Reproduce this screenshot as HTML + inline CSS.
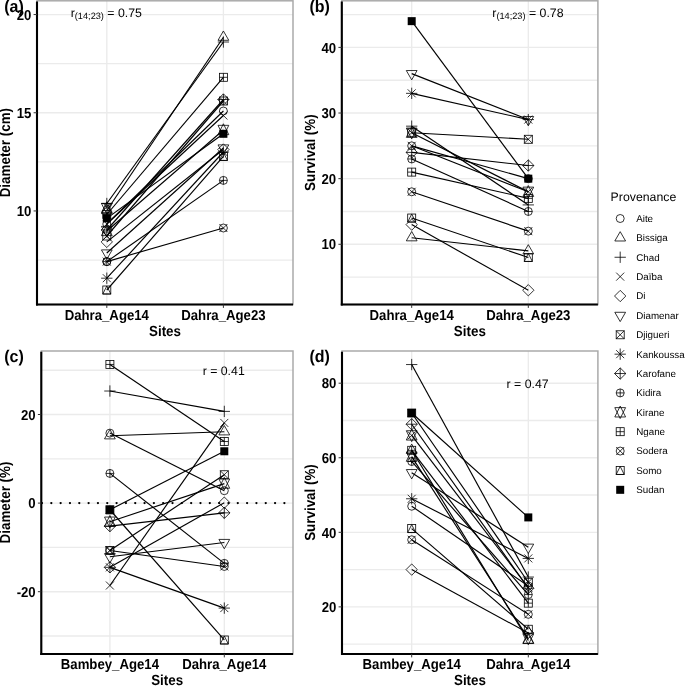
<!DOCTYPE html>
<html><head><meta charset="utf-8"><style>
html,body{margin:0;padding:0;background:#fff;}
svg{display:block;will-change:transform;}
text{font-family:"Liberation Sans",sans-serif;fill:#000;text-rendering:geometricPrecision;}
.gr{stroke:#ebebeb;stroke-width:1.35;}
.bd{fill:none;stroke:#aaaaaa;stroke-width:1.5;}
.ax{stroke:#000;stroke-width:2.1;}
.tk{stroke:#333333;stroke-width:1;}
.ln{stroke:#000;stroke-width:1.15;}
.dot{stroke:#000;stroke-width:2.3;stroke-dasharray:0 9.323;stroke-linecap:round;}
.mk *{fill:none;stroke:#000;stroke-width:0.8;}
.mk .fs{fill:#000;stroke:none;}
.tl{font-weight:bold;font-size:13.2px;}
.at{font-weight:bold;font-size:13.4px;}
.tag{font-weight:bold;font-size:16px;}
.an{font-size:12.3px;}
.sub{font-size:9.2px;}
.lt{font-size:12.3px;}
.ll{font-size:9.8px;}
</style></head>
<body><svg width="685" height="686" viewBox="0 0 685 686">
<g><line class="gr" x1="37" y1="260.05" x2="293" y2="260.05"/><line class="gr" x1="37" y1="161.85" x2="293" y2="161.85"/><line class="gr" x1="37" y1="63.65" x2="293" y2="63.65"/><line class="gr" x1="37" y1="210.95" x2="293" y2="210.95"/><line class="gr" x1="37" y1="112.75" x2="293" y2="112.75"/><line class="gr" x1="37" y1="14.55" x2="293" y2="14.55"/><line class="gr" x1="106.8" y1="0.8" x2="106.8" y2="304.5"/><line class="gr" x1="223.4" y1="0.8" x2="223.4" y2="304.5"/><rect class="bd" x="37" y="0.8" width="256" height="303.7"/><line class="ln" x1="106.8" y1="224" x2="223.4" y2="111"/><line class="ln" x1="106.8" y1="210.5" x2="223.4" y2="37.2"/><line class="ln" x1="106.8" y1="203.5" x2="223.4" y2="42"/><line class="ln" x1="106.8" y1="224" x2="223.4" y2="115.5"/><line class="ln" x1="106.8" y1="241.9" x2="223.4" y2="149.5"/><line class="ln" x1="106.8" y1="253" x2="223.4" y2="148"/><line class="ln" x1="106.8" y1="236" x2="223.4" y2="101"/><line class="ln" x1="106.8" y1="278.2" x2="223.4" y2="152"/><line class="ln" x1="106.8" y1="230" x2="223.4" y2="99.5"/><line class="ln" x1="106.8" y1="261.6" x2="223.4" y2="180.4"/><line class="ln" x1="106.8" y1="231" x2="223.4" y2="130"/><line class="ln" x1="106.8" y1="214.5" x2="223.4" y2="77.3"/><line class="ln" x1="106.8" y1="261.6" x2="223.4" y2="228"/><line class="ln" x1="106.8" y1="290" x2="223.4" y2="156.4"/><line class="ln" x1="106.8" y1="218.4" x2="223.4" y2="133.8"/><g class="mk"><circle cx="106.8" cy="224" r="4"/></g><g class="mk"><circle cx="223.4" cy="111" r="4"/></g><g class="mk"><polygon points="106.8,204.28 112.19,213.61 101.41,213.61"/></g><g class="mk"><polygon points="223.4,30.98 228.79,40.31 218.01,40.31"/></g><g class="mk"><line x1="101.14" y1="203.5" x2="112.46" y2="203.5"/><line x1="106.8" y1="197.84" x2="106.8" y2="209.16"/></g><g class="mk"><line x1="217.74" y1="42" x2="229.06" y2="42"/><line x1="223.4" y1="36.34" x2="223.4" y2="47.66"/></g><g class="mk"><line x1="102.8" y1="220" x2="110.8" y2="228"/><line x1="102.8" y1="228" x2="110.8" y2="220"/></g><g class="mk"><line x1="219.4" y1="111.5" x2="227.4" y2="119.5"/><line x1="219.4" y1="119.5" x2="227.4" y2="111.5"/></g><g class="mk"><polygon points="101.14,241.9 106.8,236.24 112.46,241.9 106.8,247.56"/></g><g class="mk"><polygon points="217.74,149.5 223.4,143.84 229.06,149.5 223.4,155.16"/></g><g class="mk"><polygon points="106.8,259.22 112.19,249.89 101.41,249.89"/></g><g class="mk"><polygon points="223.4,154.22 228.79,144.89 218.01,144.89"/></g><g class="mk"><rect x="102.8" y="232" width="8" height="8"/><line x1="102.8" y1="232" x2="110.8" y2="240"/><line x1="102.8" y1="240" x2="110.8" y2="232"/></g><g class="mk"><rect x="219.4" y="97" width="8" height="8"/><line x1="219.4" y1="97" x2="227.4" y2="105"/><line x1="219.4" y1="105" x2="227.4" y2="97"/></g><g class="mk"><line x1="102.8" y1="274.2" x2="110.8" y2="282.2"/><line x1="102.8" y1="282.2" x2="110.8" y2="274.2"/><line x1="101.14" y1="278.2" x2="112.46" y2="278.2"/><line x1="106.8" y1="272.54" x2="106.8" y2="283.86"/></g><g class="mk"><line x1="219.4" y1="148" x2="227.4" y2="156"/><line x1="219.4" y1="156" x2="227.4" y2="148"/><line x1="217.74" y1="152" x2="229.06" y2="152"/><line x1="223.4" y1="146.34" x2="223.4" y2="157.66"/></g><g class="mk"><polygon points="101.14,230 106.8,224.34 112.46,230 106.8,235.66"/><line x1="101.14" y1="230" x2="112.46" y2="230"/><line x1="106.8" y1="224.34" x2="106.8" y2="235.66"/></g><g class="mk"><polygon points="217.74,99.5 223.4,93.84 229.06,99.5 223.4,105.16"/><line x1="217.74" y1="99.5" x2="229.06" y2="99.5"/><line x1="223.4" y1="93.84" x2="223.4" y2="105.16"/></g><g class="mk"><circle cx="106.8" cy="261.6" r="4"/><line x1="102.8" y1="261.6" x2="110.8" y2="261.6"/><line x1="106.8" y1="257.6" x2="106.8" y2="265.6"/></g><g class="mk"><circle cx="223.4" cy="180.4" r="4"/><line x1="219.4" y1="180.4" x2="227.4" y2="180.4"/><line x1="223.4" y1="176.4" x2="223.4" y2="184.4"/></g><g class="mk"><polygon points="106.8,224.78 112.19,235.67 101.41,235.67"/><polygon points="106.8,237.22 112.19,226.33 101.41,226.33"/></g><g class="mk"><polygon points="223.4,123.78 228.79,134.67 218.01,134.67"/><polygon points="223.4,136.22 228.79,125.33 218.01,125.33"/></g><g class="mk"><rect x="102.8" y="210.5" width="8" height="8"/><line x1="102.8" y1="214.5" x2="110.8" y2="214.5"/><line x1="106.8" y1="210.5" x2="106.8" y2="218.5"/></g><g class="mk"><rect x="219.4" y="73.3" width="8" height="8"/><line x1="219.4" y1="77.3" x2="227.4" y2="77.3"/><line x1="223.4" y1="73.3" x2="223.4" y2="81.3"/></g><g class="mk"><circle cx="106.8" cy="261.6" r="4"/><line x1="102.8" y1="257.6" x2="110.8" y2="265.6"/><line x1="102.8" y1="265.6" x2="110.8" y2="257.6"/></g><g class="mk"><circle cx="223.4" cy="228" r="4"/><line x1="219.4" y1="224" x2="227.4" y2="232"/><line x1="219.4" y1="232" x2="227.4" y2="224"/></g><g class="mk"><rect x="102.8" y="286" width="8" height="8"/><polygon points="106.8,286 110.8,294 102.8,294"/></g><g class="mk"><rect x="219.4" y="152.4" width="8" height="8"/><polygon points="223.4,152.4 227.4,160.4 219.4,160.4"/></g><g class="mk"><rect class="fs" x="102.8" y="214.4" width="8" height="8"/></g><g class="mk"><rect class="fs" x="219.4" y="129.8" width="8" height="8"/></g><g class="mk"><polygon points="106.8,201.78 112.19,212.67 101.41,212.67"/><polygon points="106.8,214.22 112.19,203.33 101.41,203.33"/></g><g class="mk"><line x1="102.8" y1="203" x2="110.8" y2="211"/><line x1="102.8" y1="211" x2="110.8" y2="203"/></g><line class="ax" x1="37" y1="1.5" x2="37" y2="305.5"/><line class="ax" x1="36" y1="304.5" x2="293" y2="304.5"/><line class="tk" x1="33.6" y1="210.95" x2="37" y2="210.95"/><text class="tl" transform="translate(31.4 216.15) scale(1 1.09)" text-anchor="end">10</text><line class="tk" x1="33.6" y1="112.75" x2="37" y2="112.75"/><text class="tl" transform="translate(31.4 117.95) scale(1 1.09)" text-anchor="end">15</text><line class="tk" x1="33.6" y1="14.55" x2="37" y2="14.55"/><text class="tl" transform="translate(31.4 19.75) scale(1 1.09)" text-anchor="end">20</text><line class="tk" x1="106.8" y1="304.5" x2="106.8" y2="307.9"/><text class="tl" transform="translate(106.8 319.6) scale(1 1.09)" text-anchor="middle">Dahra_Age14</text><line class="tk" x1="223.4" y1="304.5" x2="223.4" y2="307.9"/><text class="tl" transform="translate(223.4 319.6) scale(1 1.09)" text-anchor="middle">Dahra_Age23</text><text class="at" transform="translate(165 335.7) scale(1 1.09)" text-anchor="middle">Sites</text><text class="at" transform="translate(10 152.65) rotate(-90) scale(1 1.09)" text-anchor="middle">Diameter (cm)</text><text class="tag" transform="translate(4.2 11.7) scale(1 1.05)">(a)</text>
<line class="gr" x1="341.8" y1="277.1" x2="597.9" y2="277.1"/><line class="gr" x1="341.8" y1="211.47" x2="597.9" y2="211.47"/><line class="gr" x1="341.8" y1="145.84" x2="597.9" y2="145.84"/><line class="gr" x1="341.8" y1="80.22" x2="597.9" y2="80.22"/><line class="gr" x1="341.8" y1="14.59" x2="597.9" y2="14.59"/><line class="gr" x1="341.8" y1="244.29" x2="597.9" y2="244.29"/><line class="gr" x1="341.8" y1="178.66" x2="597.9" y2="178.66"/><line class="gr" x1="341.8" y1="113.03" x2="597.9" y2="113.03"/><line class="gr" x1="341.8" y1="47.4" x2="597.9" y2="47.4"/><line class="gr" x1="411.7" y1="0.8" x2="411.7" y2="304.5"/><line class="gr" x1="528.3" y1="0.8" x2="528.3" y2="304.5"/><rect class="bd" x="341.8" y="0.8" width="256.1" height="303.7"/><line class="ln" x1="411.7" y1="145.84" x2="528.3" y2="178.66"/><line class="ln" x1="411.7" y1="237.73" x2="528.3" y2="250.85"/><line class="ln" x1="411.7" y1="126.16" x2="528.3" y2="204.91"/><line class="ln" x1="411.7" y1="145.84" x2="528.3" y2="191.79"/><line class="ln" x1="411.7" y1="224.6" x2="528.3" y2="290.23"/><line class="ln" x1="411.7" y1="73.65" x2="528.3" y2="119.59"/><line class="ln" x1="411.7" y1="132.72" x2="528.3" y2="139.28"/><line class="ln" x1="411.7" y1="93.34" x2="528.3" y2="119.59"/><line class="ln" x1="411.7" y1="152.41" x2="528.3" y2="165.53"/><line class="ln" x1="411.7" y1="158.97" x2="528.3" y2="211.47"/><line class="ln" x1="411.7" y1="132.72" x2="528.3" y2="191.79"/><line class="ln" x1="411.7" y1="172.1" x2="528.3" y2="198.35"/><line class="ln" x1="411.7" y1="191.79" x2="528.3" y2="231.16"/><line class="ln" x1="411.7" y1="218.04" x2="528.3" y2="257.42"/><line class="ln" x1="411.7" y1="21.15" x2="528.3" y2="178.66"/><g class="mk"><circle cx="411.7" cy="145.84" r="4"/></g><g class="mk"><circle cx="528.3" cy="178.66" r="4"/></g><g class="mk"><polygon points="411.7,231.51 417.09,240.84 406.31,240.84"/></g><g class="mk"><polygon points="528.3,244.63 533.69,253.97 522.91,253.97"/></g><g class="mk"><line x1="406.04" y1="126.16" x2="417.36" y2="126.16"/><line x1="411.7" y1="120.5" x2="411.7" y2="131.81"/></g><g class="mk"><line x1="522.64" y1="204.91" x2="533.96" y2="204.91"/><line x1="528.3" y1="199.26" x2="528.3" y2="210.57"/></g><g class="mk"><line x1="407.7" y1="141.84" x2="415.7" y2="149.84"/><line x1="407.7" y1="149.84" x2="415.7" y2="141.84"/></g><g class="mk"><line x1="524.3" y1="187.79" x2="532.3" y2="195.79"/><line x1="524.3" y1="195.79" x2="532.3" y2="187.79"/></g><g class="mk"><polygon points="406.04,224.6 411.7,218.94 417.36,224.6 411.7,230.26"/></g><g class="mk"><polygon points="522.64,290.23 528.3,284.57 533.96,290.23 528.3,295.89"/></g><g class="mk"><polygon points="411.7,79.87 417.09,70.54 406.31,70.54"/></g><g class="mk"><polygon points="528.3,125.81 533.69,116.48 522.91,116.48"/></g><g class="mk"><rect x="407.7" y="128.72" width="8" height="8"/><line x1="407.7" y1="128.72" x2="415.7" y2="136.72"/><line x1="407.7" y1="136.72" x2="415.7" y2="128.72"/></g><g class="mk"><rect x="524.3" y="135.28" width="8" height="8"/><line x1="524.3" y1="135.28" x2="532.3" y2="143.28"/><line x1="524.3" y1="143.28" x2="532.3" y2="135.28"/></g><g class="mk"><line x1="407.7" y1="89.34" x2="415.7" y2="97.34"/><line x1="407.7" y1="97.34" x2="415.7" y2="89.34"/><line x1="406.04" y1="93.34" x2="417.36" y2="93.34"/><line x1="411.7" y1="87.68" x2="411.7" y2="99"/></g><g class="mk"><line x1="524.3" y1="115.59" x2="532.3" y2="123.59"/><line x1="524.3" y1="123.59" x2="532.3" y2="115.59"/><line x1="522.64" y1="119.59" x2="533.96" y2="119.59"/><line x1="528.3" y1="113.94" x2="528.3" y2="125.25"/></g><g class="mk"><polygon points="406.04,152.41 411.7,146.75 417.36,152.41 411.7,158.06"/><line x1="406.04" y1="152.41" x2="417.36" y2="152.41"/><line x1="411.7" y1="146.75" x2="411.7" y2="158.06"/></g><g class="mk"><polygon points="522.64,165.53 528.3,159.88 533.96,165.53 528.3,171.19"/><line x1="522.64" y1="165.53" x2="533.96" y2="165.53"/><line x1="528.3" y1="159.88" x2="528.3" y2="171.19"/></g><g class="mk"><circle cx="411.7" cy="158.97" r="4"/><line x1="407.7" y1="158.97" x2="415.7" y2="158.97"/><line x1="411.7" y1="154.97" x2="411.7" y2="162.97"/></g><g class="mk"><circle cx="528.3" cy="211.47" r="4"/><line x1="524.3" y1="211.47" x2="532.3" y2="211.47"/><line x1="528.3" y1="207.47" x2="528.3" y2="215.47"/></g><g class="mk"><polygon points="411.7,126.5 417.09,137.38 406.31,137.38"/><polygon points="411.7,138.94 417.09,128.05 406.31,128.05"/></g><g class="mk"><polygon points="528.3,185.57 533.69,196.45 522.91,196.45"/><polygon points="528.3,198.01 533.69,187.12 522.91,187.12"/></g><g class="mk"><rect x="407.7" y="168.1" width="8" height="8"/><line x1="407.7" y1="172.1" x2="415.7" y2="172.1"/><line x1="411.7" y1="168.1" x2="411.7" y2="176.1"/></g><g class="mk"><rect x="524.3" y="194.35" width="8" height="8"/><line x1="524.3" y1="198.35" x2="532.3" y2="198.35"/><line x1="528.3" y1="194.35" x2="528.3" y2="202.35"/></g><g class="mk"><circle cx="411.7" cy="191.79" r="4"/><line x1="407.7" y1="187.79" x2="415.7" y2="195.79"/><line x1="407.7" y1="195.79" x2="415.7" y2="187.79"/></g><g class="mk"><circle cx="528.3" cy="231.16" r="4"/><line x1="524.3" y1="227.16" x2="532.3" y2="235.16"/><line x1="524.3" y1="235.16" x2="532.3" y2="227.16"/></g><g class="mk"><rect x="407.7" y="214.04" width="8" height="8"/><polygon points="411.7,214.04 415.7,222.04 407.7,222.04"/></g><g class="mk"><rect x="524.3" y="253.42" width="8" height="8"/><polygon points="528.3,253.42 532.3,261.42 524.3,261.42"/></g><g class="mk"><rect class="fs" x="407.7" y="17.15" width="8" height="8"/></g><g class="mk"><rect class="fs" x="524.3" y="174.66" width="8" height="8"/></g><line class="ax" x1="341.8" y1="1.5" x2="341.8" y2="305.5"/><line class="ax" x1="340.8" y1="304.5" x2="597.9" y2="304.5"/><line class="tk" x1="338.4" y1="244.29" x2="341.8" y2="244.29"/><text class="tl" transform="translate(336.2 249.49) scale(1 1.09)" text-anchor="end">10</text><line class="tk" x1="338.4" y1="178.66" x2="341.8" y2="178.66"/><text class="tl" transform="translate(336.2 183.86) scale(1 1.09)" text-anchor="end">20</text><line class="tk" x1="338.4" y1="113.03" x2="341.8" y2="113.03"/><text class="tl" transform="translate(336.2 118.23) scale(1 1.09)" text-anchor="end">30</text><line class="tk" x1="338.4" y1="47.4" x2="341.8" y2="47.4"/><text class="tl" transform="translate(336.2 52.6) scale(1 1.09)" text-anchor="end">40</text><line class="tk" x1="411.7" y1="304.5" x2="411.7" y2="307.9"/><text class="tl" transform="translate(411.7 319.6) scale(1 1.09)" text-anchor="middle">Dahra_Age14</text><line class="tk" x1="528.3" y1="304.5" x2="528.3" y2="307.9"/><text class="tl" transform="translate(528.3 319.6) scale(1 1.09)" text-anchor="middle">Dahra_Age23</text><text class="at" transform="translate(469.85 335.7) scale(1 1.09)" text-anchor="middle">Sites</text><text class="at" transform="translate(315.2 152.65) rotate(-90) scale(1 1.09)" text-anchor="middle">Survival (%)</text><text class="tag" transform="translate(309.5 11.7) scale(1 1.05)">(b)</text>
<line class="gr" x1="41.3" y1="636" x2="293" y2="636"/><line class="gr" x1="41.3" y1="547.4" x2="293" y2="547.4"/><line class="gr" x1="41.3" y1="458.8" x2="293" y2="458.8"/><line class="gr" x1="41.3" y1="370.2" x2="293" y2="370.2"/><line class="gr" x1="41.3" y1="591.7" x2="293" y2="591.7"/><line class="gr" x1="41.3" y1="503.1" x2="293" y2="503.1"/><line class="gr" x1="41.3" y1="414.5" x2="293" y2="414.5"/><line class="gr" x1="109.9" y1="351" x2="109.9" y2="654"/><line class="gr" x1="224.3" y1="351" x2="224.3" y2="654"/><rect class="bd" x="41.3" y="351" width="251.7" height="303"/><line class="dot" x1="42.0" y1="503.1" x2="290" y2="503.1"/><line class="ln" x1="109.9" y1="433.11" x2="224.3" y2="490.7"/><line class="ln" x1="109.9" y1="435.76" x2="224.3" y2="431.78"/><line class="ln" x1="109.9" y1="391.02" x2="224.3" y2="411.4"/><line class="ln" x1="109.9" y1="585.5" x2="224.3" y2="422.92"/><line class="ln" x1="109.9" y1="567.34" x2="224.3" y2="502.66"/><line class="ln" x1="109.9" y1="556.7" x2="224.3" y2="542.53"/><line class="ln" x1="109.9" y1="550.5" x2="224.3" y2="474.75"/><line class="ln" x1="109.9" y1="567.34" x2="224.3" y2="608.09"/><line class="ln" x1="109.9" y1="526.14" x2="224.3" y2="512.85"/><line class="ln" x1="109.9" y1="473.42" x2="224.3" y2="563.35"/><line class="ln" x1="109.9" y1="521.71" x2="224.3" y2="483.61"/><line class="ln" x1="109.9" y1="364.44" x2="224.3" y2="441.52"/><line class="ln" x1="109.9" y1="550.5" x2="224.3" y2="566.45"/><line class="ln" x1="109.9" y1="509.75" x2="224.3" y2="639.99"/><line class="ln" x1="109.9" y1="509.75" x2="224.3" y2="451.27"/><g class="mk"><circle cx="109.9" cy="433.11" r="4"/></g><g class="mk"><circle cx="224.3" cy="490.7" r="4"/></g><g class="mk"><polygon points="109.9,429.54 115.29,438.88 104.51,438.88"/></g><g class="mk"><polygon points="224.3,425.56 229.69,434.89 218.91,434.89"/></g><g class="mk"><line x1="104.24" y1="391.02" x2="115.56" y2="391.02"/><line x1="109.9" y1="385.36" x2="109.9" y2="396.68"/></g><g class="mk"><line x1="218.64" y1="411.4" x2="229.96" y2="411.4"/><line x1="224.3" y1="405.74" x2="224.3" y2="417.06"/></g><g class="mk"><line x1="105.9" y1="581.5" x2="113.9" y2="589.5"/><line x1="105.9" y1="589.5" x2="113.9" y2="581.5"/></g><g class="mk"><line x1="220.3" y1="418.92" x2="228.3" y2="426.92"/><line x1="220.3" y1="426.92" x2="228.3" y2="418.92"/></g><g class="mk"><polygon points="104.24,567.34 109.9,561.68 115.56,567.34 109.9,572.99"/></g><g class="mk"><polygon points="218.64,502.66 224.3,497 229.96,502.66 224.3,508.31"/></g><g class="mk"><polygon points="109.9,562.92 115.29,553.59 104.51,553.59"/></g><g class="mk"><polygon points="224.3,548.75 229.69,539.42 218.91,539.42"/></g><g class="mk"><rect x="105.9" y="546.5" width="8" height="8"/><line x1="105.9" y1="546.5" x2="113.9" y2="554.5"/><line x1="105.9" y1="554.5" x2="113.9" y2="546.5"/></g><g class="mk"><rect x="220.3" y="470.75" width="8" height="8"/><line x1="220.3" y1="470.75" x2="228.3" y2="478.75"/><line x1="220.3" y1="478.75" x2="228.3" y2="470.75"/></g><g class="mk"><line x1="105.9" y1="563.34" x2="113.9" y2="571.34"/><line x1="105.9" y1="571.34" x2="113.9" y2="563.34"/><line x1="104.24" y1="567.34" x2="115.56" y2="567.34"/><line x1="109.9" y1="561.68" x2="109.9" y2="572.99"/></g><g class="mk"><line x1="220.3" y1="604.09" x2="228.3" y2="612.09"/><line x1="220.3" y1="612.09" x2="228.3" y2="604.09"/><line x1="218.64" y1="608.09" x2="229.96" y2="608.09"/><line x1="224.3" y1="602.43" x2="224.3" y2="613.75"/></g><g class="mk"><polygon points="104.24,526.14 109.9,520.48 115.56,526.14 109.9,531.79"/><line x1="104.24" y1="526.14" x2="115.56" y2="526.14"/><line x1="109.9" y1="520.48" x2="109.9" y2="531.79"/></g><g class="mk"><polygon points="218.64,512.85 224.3,507.19 229.96,512.85 224.3,518.5"/><line x1="218.64" y1="512.85" x2="229.96" y2="512.85"/><line x1="224.3" y1="507.19" x2="224.3" y2="518.5"/></g><g class="mk"><circle cx="109.9" cy="473.42" r="4"/><line x1="105.9" y1="473.42" x2="113.9" y2="473.42"/><line x1="109.9" y1="469.42" x2="109.9" y2="477.42"/></g><g class="mk"><circle cx="224.3" cy="563.35" r="4"/><line x1="220.3" y1="563.35" x2="228.3" y2="563.35"/><line x1="224.3" y1="559.35" x2="224.3" y2="567.35"/></g><g class="mk"><polygon points="109.9,515.49 115.29,526.37 104.51,526.37"/><polygon points="109.9,527.93 115.29,517.04 104.51,517.04"/></g><g class="mk"><polygon points="224.3,477.39 229.69,488.27 218.91,488.27"/><polygon points="224.3,489.83 229.69,478.94 218.91,478.94"/></g><g class="mk"><rect x="105.9" y="360.44" width="8" height="8"/><line x1="105.9" y1="364.44" x2="113.9" y2="364.44"/><line x1="109.9" y1="360.44" x2="109.9" y2="368.44"/></g><g class="mk"><rect x="220.3" y="437.52" width="8" height="8"/><line x1="220.3" y1="441.52" x2="228.3" y2="441.52"/><line x1="224.3" y1="437.52" x2="224.3" y2="445.52"/></g><g class="mk"><circle cx="109.9" cy="550.5" r="4"/><line x1="105.9" y1="546.5" x2="113.9" y2="554.5"/><line x1="105.9" y1="554.5" x2="113.9" y2="546.5"/></g><g class="mk"><circle cx="224.3" cy="566.45" r="4"/><line x1="220.3" y1="562.45" x2="228.3" y2="570.45"/><line x1="220.3" y1="570.45" x2="228.3" y2="562.45"/></g><g class="mk"><rect x="105.9" y="505.75" width="8" height="8"/><polygon points="109.9,505.75 113.9,513.75 105.9,513.75"/></g><g class="mk"><rect x="220.3" y="635.99" width="8" height="8"/><polygon points="224.3,635.99 228.3,643.99 220.3,643.99"/></g><g class="mk"><rect class="fs" x="105.9" y="505.75" width="8" height="8"/></g><g class="mk"><rect class="fs" x="220.3" y="447.27" width="8" height="8"/></g><line class="ax" x1="41.3" y1="351.7" x2="41.3" y2="655"/><line class="ax" x1="40.3" y1="654" x2="293" y2="654"/><line class="tk" x1="37.9" y1="591.7" x2="41.3" y2="591.7"/><text class="tl" transform="translate(35.7 596.9) scale(1 1.09)" text-anchor="end">-20</text><line class="tk" x1="37.9" y1="503.1" x2="41.3" y2="503.1"/><text class="tl" transform="translate(35.7 508.3) scale(1 1.09)" text-anchor="end">0</text><line class="tk" x1="37.9" y1="414.5" x2="41.3" y2="414.5"/><text class="tl" transform="translate(35.7 419.7) scale(1 1.09)" text-anchor="end">20</text><line class="tk" x1="109.9" y1="654" x2="109.9" y2="657.4"/><text class="tl" transform="translate(109.9 669.1) scale(1 1.09)" text-anchor="middle">Bambey_Age14</text><line class="tk" x1="224.3" y1="654" x2="224.3" y2="657.4"/><text class="tl" transform="translate(224.3 669.1) scale(1 1.09)" text-anchor="middle">Dahra_Age14</text><text class="at" transform="translate(167.15 685.2) scale(1 1.09)" text-anchor="middle">Sites</text><text class="at" transform="translate(10 502.5) rotate(-90) scale(1 1.09)" text-anchor="middle">Diameter (%)</text><text class="tag" transform="translate(4.2 361.7) scale(1 1.05)">(c)</text>
<line class="gr" x1="342" y1="644.16" x2="597.9" y2="644.16"/><line class="gr" x1="342" y1="569.6" x2="597.9" y2="569.6"/><line class="gr" x1="342" y1="495.04" x2="597.9" y2="495.04"/><line class="gr" x1="342" y1="420.48" x2="597.9" y2="420.48"/><line class="gr" x1="342" y1="606.88" x2="597.9" y2="606.88"/><line class="gr" x1="342" y1="532.32" x2="597.9" y2="532.32"/><line class="gr" x1="342" y1="457.76" x2="597.9" y2="457.76"/><line class="gr" x1="342" y1="383.2" x2="597.9" y2="383.2"/><line class="gr" x1="411.7" y1="351" x2="411.7" y2="654"/><line class="gr" x1="528.3" y1="351" x2="528.3" y2="654"/><rect class="bd" x="342" y="351" width="255.9" height="303"/><line class="ln" x1="411.7" y1="506.22" x2="528.3" y2="586"/><line class="ln" x1="411.7" y1="450.3" x2="528.3" y2="640.43"/><line class="ln" x1="411.7" y1="364.56" x2="528.3" y2="577.06"/><line class="ln" x1="411.7" y1="435.39" x2="528.3" y2="587.49"/><line class="ln" x1="411.7" y1="569.6" x2="528.3" y2="632.98"/><line class="ln" x1="411.7" y1="472.67" x2="528.3" y2="547.23"/><line class="ln" x1="411.7" y1="413.02" x2="528.3" y2="582.28"/><line class="ln" x1="411.7" y1="498.77" x2="528.3" y2="558.42"/><line class="ln" x1="411.7" y1="424.21" x2="528.3" y2="588.24"/><line class="ln" x1="411.7" y1="461.49" x2="528.3" y2="594.58"/><line class="ln" x1="411.7" y1="456.64" x2="528.3" y2="638.57"/><line class="ln" x1="411.7" y1="450.3" x2="528.3" y2="603.15"/><line class="ln" x1="411.7" y1="539.78" x2="528.3" y2="614.34"/><line class="ln" x1="411.7" y1="528.59" x2="528.3" y2="629.25"/><line class="ln" x1="411.7" y1="413.02" x2="528.3" y2="517.41"/><g class="mk"><circle cx="411.7" cy="506.22" r="4"/></g><g class="mk"><circle cx="528.3" cy="586" r="4"/></g><g class="mk"><polygon points="411.7,444.08 417.09,453.42 406.31,453.42"/></g><g class="mk"><polygon points="528.3,634.21 533.69,643.54 522.91,643.54"/></g><g class="mk"><line x1="406.04" y1="364.56" x2="417.36" y2="364.56"/><line x1="411.7" y1="358.9" x2="411.7" y2="370.22"/></g><g class="mk"><line x1="522.64" y1="577.06" x2="533.96" y2="577.06"/><line x1="528.3" y1="571.4" x2="528.3" y2="582.71"/></g><g class="mk"><line x1="407.7" y1="431.39" x2="415.7" y2="439.39"/><line x1="407.7" y1="439.39" x2="415.7" y2="431.39"/></g><g class="mk"><line x1="524.3" y1="583.49" x2="532.3" y2="591.49"/><line x1="524.3" y1="591.49" x2="532.3" y2="583.49"/></g><g class="mk"><polygon points="406.04,569.6 411.7,563.94 417.36,569.6 411.7,575.26"/></g><g class="mk"><polygon points="522.64,632.98 528.3,627.32 533.96,632.98 528.3,638.63"/></g><g class="mk"><polygon points="411.7,478.89 417.09,469.56 406.31,469.56"/></g><g class="mk"><polygon points="528.3,553.45 533.69,544.12 522.91,544.12"/></g><g class="mk"><rect x="407.7" y="409.02" width="8" height="8"/><line x1="407.7" y1="409.02" x2="415.7" y2="417.02"/><line x1="407.7" y1="417.02" x2="415.7" y2="409.02"/></g><g class="mk"><rect x="524.3" y="578.28" width="8" height="8"/><line x1="524.3" y1="578.28" x2="532.3" y2="586.28"/><line x1="524.3" y1="586.28" x2="532.3" y2="578.28"/></g><g class="mk"><line x1="407.7" y1="494.77" x2="415.7" y2="502.77"/><line x1="407.7" y1="502.77" x2="415.7" y2="494.77"/><line x1="406.04" y1="498.77" x2="417.36" y2="498.77"/><line x1="411.7" y1="493.11" x2="411.7" y2="504.42"/></g><g class="mk"><line x1="524.3" y1="554.42" x2="532.3" y2="562.42"/><line x1="524.3" y1="562.42" x2="532.3" y2="554.42"/><line x1="522.64" y1="558.42" x2="533.96" y2="558.42"/><line x1="528.3" y1="552.76" x2="528.3" y2="564.07"/></g><g class="mk"><polygon points="406.04,424.21 411.7,418.55 417.36,424.21 411.7,429.86"/><line x1="406.04" y1="424.21" x2="417.36" y2="424.21"/><line x1="411.7" y1="418.55" x2="411.7" y2="429.86"/></g><g class="mk"><polygon points="522.64,588.24 528.3,582.58 533.96,588.24 528.3,593.9"/><line x1="522.64" y1="588.24" x2="533.96" y2="588.24"/><line x1="528.3" y1="582.58" x2="528.3" y2="593.9"/></g><g class="mk"><circle cx="411.7" cy="461.49" r="4"/><line x1="407.7" y1="461.49" x2="415.7" y2="461.49"/><line x1="411.7" y1="457.49" x2="411.7" y2="465.49"/></g><g class="mk"><circle cx="528.3" cy="594.58" r="4"/><line x1="524.3" y1="594.58" x2="532.3" y2="594.58"/><line x1="528.3" y1="590.58" x2="528.3" y2="598.58"/></g><g class="mk"><polygon points="411.7,450.42 417.09,461.31 406.31,461.31"/><polygon points="411.7,462.86 417.09,451.98 406.31,451.98"/></g><g class="mk"><polygon points="528.3,632.35 533.69,643.23 522.91,643.23"/><polygon points="528.3,644.79 533.69,633.9 522.91,633.9"/></g><g class="mk"><rect x="407.7" y="446.3" width="8" height="8"/><line x1="407.7" y1="450.3" x2="415.7" y2="450.3"/><line x1="411.7" y1="446.3" x2="411.7" y2="454.3"/></g><g class="mk"><rect x="524.3" y="599.15" width="8" height="8"/><line x1="524.3" y1="603.15" x2="532.3" y2="603.15"/><line x1="528.3" y1="599.15" x2="528.3" y2="607.15"/></g><g class="mk"><circle cx="411.7" cy="539.78" r="4"/><line x1="407.7" y1="535.78" x2="415.7" y2="543.78"/><line x1="407.7" y1="543.78" x2="415.7" y2="535.78"/></g><g class="mk"><circle cx="528.3" cy="614.34" r="4"/><line x1="524.3" y1="610.34" x2="532.3" y2="618.34"/><line x1="524.3" y1="618.34" x2="532.3" y2="610.34"/></g><g class="mk"><rect x="407.7" y="524.59" width="8" height="8"/><polygon points="411.7,524.59 415.7,532.59 407.7,532.59"/></g><g class="mk"><rect x="524.3" y="625.25" width="8" height="8"/><polygon points="528.3,625.25 532.3,633.25 524.3,633.25"/></g><g class="mk"><rect class="fs" x="407.7" y="409.02" width="8" height="8"/></g><g class="mk"><rect class="fs" x="524.3" y="513.41" width="8" height="8"/></g><g class="mk"><polygon points="411.7,429.17 417.09,440.06 406.31,440.06"/><polygon points="411.7,441.61 417.09,430.73 406.31,430.73"/></g><line class="ax" x1="342" y1="351.7" x2="342" y2="655"/><line class="ax" x1="341" y1="654" x2="597.9" y2="654"/><line class="tk" x1="338.6" y1="606.88" x2="342" y2="606.88"/><text class="tl" transform="translate(336.4 612.08) scale(1 1.09)" text-anchor="end">20</text><line class="tk" x1="338.6" y1="532.32" x2="342" y2="532.32"/><text class="tl" transform="translate(336.4 537.52) scale(1 1.09)" text-anchor="end">40</text><line class="tk" x1="338.6" y1="457.76" x2="342" y2="457.76"/><text class="tl" transform="translate(336.4 462.96) scale(1 1.09)" text-anchor="end">60</text><line class="tk" x1="338.6" y1="383.2" x2="342" y2="383.2"/><text class="tl" transform="translate(336.4 388.4) scale(1 1.09)" text-anchor="end">80</text><line class="tk" x1="411.7" y1="654" x2="411.7" y2="657.4"/><text class="tl" transform="translate(411.7 669.1) scale(1 1.09)" text-anchor="middle">Bambey_Age14</text><line class="tk" x1="528.3" y1="654" x2="528.3" y2="657.4"/><text class="tl" transform="translate(528.3 669.1) scale(1 1.09)" text-anchor="middle">Dahra_Age14</text><text class="at" transform="translate(469.95 685.2) scale(1 1.09)" text-anchor="middle">Sites</text><text class="at" transform="translate(315.2 502.5) rotate(-90) scale(1 1.09)" text-anchor="middle">Survival (%)</text><text class="tag" transform="translate(309.5 361.7) scale(1 1.05)">(d)</text></g>
<text class="an" x="106.3" y="16.6" text-anchor="middle">r<tspan class="sub" dy="2.5">(14;23)</tspan><tspan dy="-2.5"> = 0.75</tspan></text>
<text class="an" x="527.9" y="16.6" text-anchor="middle">r<tspan class="sub" dy="2.5">(14;23)</tspan><tspan dy="-2.5"> = 0.78</tspan></text>
<text class="an" x="223.7" y="375.2" text-anchor="middle">r = 0.41</text>
<text class="an" x="527.6" y="387.6" text-anchor="middle">r = 0.47</text>
<g><text class="lt" x="610.6" y="200.8">Provenance</text>
<g class="mk"><circle cx="620.2" cy="218.5" r="4"/></g>
<text class="ll" x="636.2" y="221.9">Aite</text>
<g class="mk"><polygon points="620.2,231.66 625.59,240.99 614.81,240.99"/></g>
<text class="ll" x="636.2" y="241.28">Bissiga</text>
<g class="mk"><line x1="614.54" y1="257.26" x2="625.86" y2="257.26"/><line x1="620.2" y1="251.6" x2="620.2" y2="262.92"/></g>
<text class="ll" x="636.2" y="260.66">Chad</text>
<g class="mk"><line x1="616.2" y1="272.64" x2="624.2" y2="280.64"/><line x1="616.2" y1="280.64" x2="624.2" y2="272.64"/></g>
<text class="ll" x="636.2" y="280.04">Daïba</text>
<g class="mk"><polygon points="614.54,296.02 620.2,290.36 625.86,296.02 620.2,301.68"/></g>
<text class="ll" x="636.2" y="299.42">Di</text>
<g class="mk"><polygon points="620.2,321.62 625.59,312.29 614.81,312.29"/></g>
<text class="ll" x="636.2" y="318.8">Diamenar</text>
<g class="mk"><rect x="616.2" y="330.78" width="8" height="8"/><line x1="616.2" y1="330.78" x2="624.2" y2="338.78"/><line x1="616.2" y1="338.78" x2="624.2" y2="330.78"/></g>
<text class="ll" x="636.2" y="338.18">Djigueri</text>
<g class="mk"><line x1="616.2" y1="350.16" x2="624.2" y2="358.16"/><line x1="616.2" y1="358.16" x2="624.2" y2="350.16"/><line x1="614.54" y1="354.16" x2="625.86" y2="354.16"/><line x1="620.2" y1="348.5" x2="620.2" y2="359.82"/></g>
<text class="ll" x="636.2" y="357.56">Kankoussa</text>
<g class="mk"><polygon points="614.54,373.54 620.2,367.88 625.86,373.54 620.2,379.2"/><line x1="614.54" y1="373.54" x2="625.86" y2="373.54"/><line x1="620.2" y1="367.88" x2="620.2" y2="379.2"/></g>
<text class="ll" x="636.2" y="376.94">Karofane</text>
<g class="mk"><circle cx="620.2" cy="392.92" r="4"/><line x1="616.2" y1="392.92" x2="624.2" y2="392.92"/><line x1="620.2" y1="388.92" x2="620.2" y2="396.92"/></g>
<text class="ll" x="636.2" y="396.32">Kidira</text>
<g class="mk"><polygon points="620.2,406.08 625.59,416.97 614.81,416.97"/><polygon points="620.2,418.52 625.59,407.63 614.81,407.63"/></g>
<text class="ll" x="636.2" y="415.7">Kirane</text>
<g class="mk"><rect x="616.2" y="427.68" width="8" height="8"/><line x1="616.2" y1="431.68" x2="624.2" y2="431.68"/><line x1="620.2" y1="427.68" x2="620.2" y2="435.68"/></g>
<text class="ll" x="636.2" y="435.08">Ngane</text>
<g class="mk"><circle cx="620.2" cy="451.06" r="4"/><line x1="616.2" y1="447.06" x2="624.2" y2="455.06"/><line x1="616.2" y1="455.06" x2="624.2" y2="447.06"/></g>
<text class="ll" x="636.2" y="454.46">Sodera</text>
<g class="mk"><rect x="616.2" y="466.44" width="8" height="8"/><polygon points="620.2,466.44 624.2,474.44 616.2,474.44"/></g>
<text class="ll" x="636.2" y="473.84">Somo</text>
<g class="mk"><rect class="fs" x="616.2" y="485.82" width="8" height="8"/></g>
<text class="ll" x="636.2" y="493.22">Sudan</text></g>
</svg></body></html>
